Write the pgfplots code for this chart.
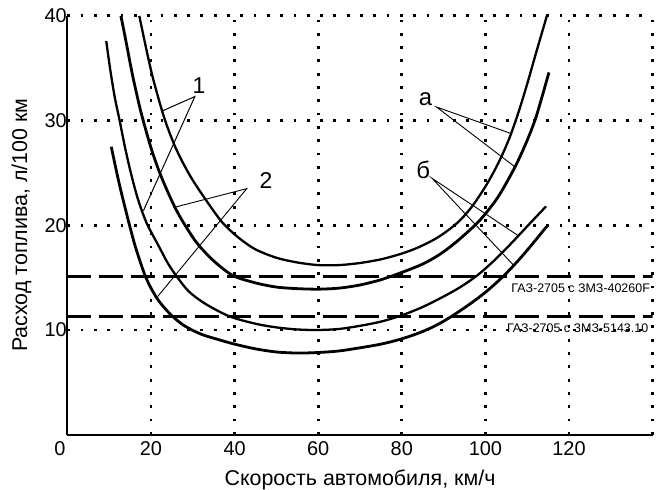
\documentclass[border=0pt]{standalone}
\usepackage{fontspec}
\setmainfont{Liberation Sans}
\usepackage{pgfplots}
\pgfplotsset{compat=1.18}
\begin{document}
\begin{tikzpicture}
\path[use as bounding box] (-67.4bp,-55.3bp) rectangle (590.6bp,434.7bp);
\begin{axis}[
  at={(0,0)}, anchor=south west,
  scale only axis, width=585.2bp, height=418.8bp,
  xmin=0, xmax=140, ymin=0, ymax=40,
  axis x line*=bottom, axis y line*=left,
  axis line style={-, line width=2.2bp},
  xtick={20,40,60,80,100,120,140},
  xticklabels={20,40,60,80,100,120,{}},
  ytick={10,20,30,40},
  major tick length=0pt,
  grid=major,
  major grid style={black, line width=2.8bp, dash pattern=on 2.8bp off 10.5bp},
  /pgf/number format/assume math mode=true,
  tick label style={font=\fontsize{20}{22}\selectfont},
  xticklabel style={inner sep=0pt, yshift=-7bp},
  yticklabel style={inner sep=0.5bp},
  xlabel={Скорость автомобиля, км/ч},
  ylabel={Расход топлива, л/100 км},
  label style={font=\fontsize{21.5}{24}\selectfont},
  x label style={at={(axis description cs:0.5,-0.108)}, anchor=center},
  y label style={at={(axis description cs:-0.0786,0.5)}, anchor=center},
  clip=true,
]
% reference levels
\addplot[black, line width=3bp, dash pattern=on 24bp off 8bp] coordinates {(0,15.15) (140,15.15)};
\addplot[black, line width=3bp, dash pattern=on 24bp off 8bp] coordinates {(0,11.3) (140,11.3)};
% curve 1
\addplot[black, line width=2.3bp, smooth] coordinates {
(17.2,40) (19,36.6) (20.5,34) (22.6,31) (24,29.3) (26,27.3) (28,25.7) (30,24.3) (33,22.5) (37,20.3) (41,18.8) (45,17.7) (50,16.9) (55,16.45) (60,16.2) (65,16.2) (70,16.4) (75,16.75) (80,17.3) (84,17.9) (88,18.7) (91,19.5) (94,20.5) (97,21.9) (100,23.7) (102,25.1) (104,26.7) (106,28.6) (108,30.9) (110,33.5) (112,36.3) (114.7,40)};
% curve 2
\addplot[black, line width=2.8bp, smooth] coordinates {
(12.8,40) (14,37.6) (15.5,34.5) (17,31.8) (18,30.2) (20,27.4) (22,25.1) (24,23.2) (26,21.5) (28,20.1) (31,18.3) (35,16.6) (39.6,15.2) (45,14.5) (50,14.1) (55,13.95) (60,13.9) (65,14.0) (70,14.3) (75,14.8) (80,15.5) (85,16.3) (89,17.2) (93,18.4) (98,20.2) (101,21.6) (103.5,23.0) (107,25.5) (109,27.2) (110.5,28.6) (112,30.2) (113.5,32.2) (115.2,34.6)};
% curve 3
\addplot[black, line width=2.3bp, smooth] coordinates {
(9.3,37.6) (10.2,35) (11.3,32.3) (12.5,30) (13.7,27.6) (15,25.3) (16.5,23) (17.8,21.4) (19.2,20) (22,17.9) (24,16.4) (26,15.2) (29,13.7) (33,12.5) (38.8,11.3) (45,10.6) (50,10.25) (55,10.05) (60,10.0) (65,10.1) (70,10.4) (75,10.8) (80,11.4) (85,12.2) (90,13.2) (94,14.1) (98,15.2) (102,16.6) (106,18.2) (110.7,20.2) (114.5,21.8)};
% curve 4
\addplot[black, line width=2.8bp, smooth] coordinates {
(10.5,27.5) (11.5,25.6) (12.5,23.8) (13.6,22) (14.8,20.1) (16.3,17.9) (18.4,15.4) (20,14.0) (22,12.7) (24.9,11.4) (28,10.4) (32,9.6) (36,9.1) (40,8.65) (45,8.2) (50,7.9) (55,7.8) (60,7.85) (65,8.0) (70,8.3) (75,8.65) (79.5,9.1) (84,9.7) (88,10.4) (91.5,11.2) (96,12.4) (100,13.6) (104.2,15.1) (108,16.7) (111,18.1) (114.7,19.9)};
% annotations
\draw[line width=1bp] (axis cs:22.6,30.9) -- (axis cs:30.5,32.3) -- (axis cs:18.2,21.4);
\draw[line width=0.9bp] (axis cs:25.4,21.7) -- (axis cs:42.9,23.5) -- (axis cs:21.6,13.2);
\draw[line width=0.9bp] (axis cs:105.9,28.8) -- (axis cs:88.3,31.3) -- (axis cs:107.0,25.6);
\draw[line width=0.9bp] (axis cs:107.9,19.0) -- (axis cs:87.2,24.5) -- (axis cs:106.7,16.2);
\node[font=\fontsize{23}{25}\selectfont, inner sep=0pt] at (axis cs:31.5,33.3) {1};
\node[font=\fontsize{23}{25}\selectfont, inner sep=0pt] at (axis cs:47.5,24.3) {2};
\node[font=\fontsize{24}{26}\selectfont, inner sep=0pt] at (axis cs:85.7,32.0) {а};
\node[font=\fontsize{24}{26}\selectfont, inner sep=0pt] at (axis cs:85.1,25.3) {б};
\node[font=\fontsize{12.5}{14}\selectfont, anchor=east, inner sep=0pt] at (axis cs:139.4,14.0) {ГАЗ-2705 с ЗМЗ-40260F};
\node[font=\fontsize{12.5}{14}\selectfont, anchor=east, inner sep=0pt] at (axis cs:139.0,10.2) {ГАЗ-2705 с ЗМЗ-5143.10};
\end{axis}
\node[font=\fontsize{20}{22}\selectfont, anchor=north, inner sep=0pt] at (-7.4bp,-7bp) {0};
\end{tikzpicture}
\end{document}
